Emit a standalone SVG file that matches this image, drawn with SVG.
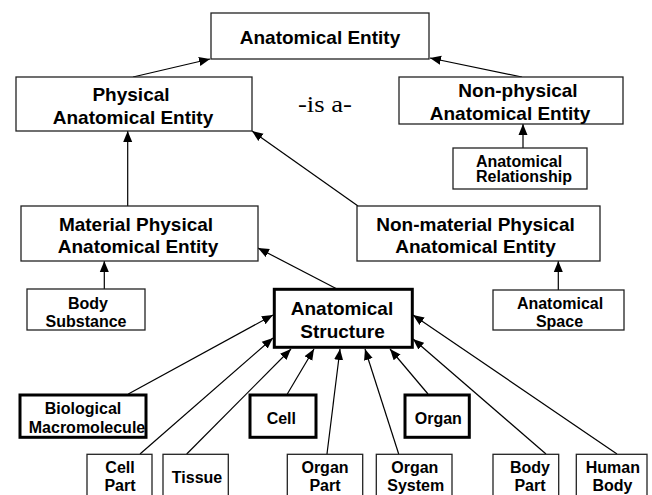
<svg xmlns="http://www.w3.org/2000/svg" width="652" height="495" viewBox="0 0 652 495">
<style>
.box{fill:#fff;stroke:#222;stroke-width:1.3}
.thick{fill:#fff;stroke:#000;stroke-width:3}
.t{font-family:"Liberation Sans",Arial,sans-serif;font-weight:bold;fill:#000;text-anchor:middle}
.l{font-size:19px}
.s{font-size:16px}
.c{stroke:#000;stroke-width:1.2;fill:none;marker-end:url(#ah)}
</style>
<defs>
<marker id="ah" markerUnits="userSpaceOnUse" markerWidth="12" markerHeight="10" viewBox="0 0 12 10" refX="11" refY="5" orient="auto">
<path d="M0,0.5 L11,5 L0,9.5 Z" fill="#000"/>
</marker>
</defs>
<rect width="652" height="495" fill="#fff"/>
<g id="connectors">
<line class="c" x1="133" y1="77" x2="210" y2="59"/>
<line class="c" x1="522" y1="77" x2="430" y2="58"/>
<line class="c" x1="127.7" y1="206" x2="127.7" y2="131"/>
<line class="c" x1="358" y1="206" x2="252" y2="131"/>
<line class="c" x1="523" y1="148" x2="523" y2="124"/>
<line class="c" x1="104.3" y1="289" x2="104.3" y2="261"/>
<line class="c" x1="337" y1="289" x2="258" y2="248"/>
<line class="c" x1="558.3" y1="290" x2="558.3" y2="261"/>
<line class="c" x1="128.3" y1="394" x2="273" y2="315"/>
<line class="c" x1="140" y1="454" x2="273" y2="338"/>
<line class="c" x1="186.7" y1="454" x2="291" y2="349"/>
<line class="c" x1="287.3" y1="394" x2="314" y2="349"/>
<line class="c" x1="327" y1="454" x2="340" y2="349"/>
<line class="c" x1="398.7" y1="454" x2="365" y2="349"/>
<line class="c" x1="428" y1="394" x2="390" y2="349"/>
<line class="c" x1="546" y1="454" x2="413" y2="339"/>
<line class="c" x1="617" y1="454" x2="413" y2="315"/>
</g>
<g id="anatomical-entity">
<rect class="box" x="211" y="13" width="218" height="46"/>
<text class="t l" x="320" y="44">Anatomical Entity</text>
</g>
<g id="physical-anatomical-entity">
<rect class="box" x="16" y="77" width="236" height="54"/>
<text class="t l" x="131" y="100.7">Physical</text>
<text class="t l" x="133" y="124">Anatomical Entity</text>
</g>
<text id="is-a" x="325" y="111.5" font-family="'Liberation Serif','Times New Roman',serif" font-size="23" text-anchor="middle" textLength="54" lengthAdjust="spacingAndGlyphs">-is a-</text>
<g id="non-physical-anatomical-entity">
<rect class="box" x="399" y="77" width="224" height="47"/>
<text class="t l" x="518" y="96.7">Non-physical</text>
<text class="t l" x="510" y="120">Anatomical Entity</text>
</g>
<g id="anatomical-relationship">
<rect class="box" x="453" y="148" width="134" height="41"/>
<text class="t s" x="519" y="166.7">Anatomical</text>
<text class="t s" x="524" y="182.3">Relationship</text>
</g>
<g id="material-physical-anatomical-entity">
<rect class="box" x="21" y="206" width="237" height="55"/>
<text class="t l" x="136" y="230.7">Material Physical</text>
<text class="t l" x="138" y="253.3">Anatomical Entity</text>
</g>
<g id="non-material-physical-anatomical-entity">
<rect class="box" x="357" y="206" width="243" height="55"/>
<text class="t l" x="475.5" y="230.7">Non-material Physical</text>
<text class="t l" x="475.5" y="253.3">Anatomical Entity</text>
</g>
<g id="body-substance">
<rect class="box" x="27" y="289" width="118" height="41"/>
<text class="t s" x="88" y="309">Body</text>
<text class="t s" x="86" y="326.7">Substance</text>
</g>
<g id="anatomical-structure">
<rect class="thick" x="274.3" y="289.3" width="138" height="58"/>
<text class="t l" x="342" y="315">Anatomical</text>
<text class="t l" x="342.5" y="337.7">Structure</text>
</g>
<g id="anatomical-space">
<rect class="box" x="493" y="290" width="131" height="40"/>
<text class="t s" x="560" y="309">Anatomical</text>
<text class="t s" x="559.5" y="326.7">Space</text>
</g>
<g id="biological-macromolecule">
<rect class="thick" x="20" y="395" width="126" height="42.3"/>
<text class="t s" x="83" y="414">Biological</text>
<text class="t s" x="87" y="432.7">Macromolecule</text>
</g>
<g id="cell">
<rect class="thick" x="250" y="395" width="66" height="42.3"/>
<text class="t s" x="281.3" y="424">Cell</text>
</g>
<g id="organ">
<rect class="thick" x="405" y="395" width="64.3" height="42.3"/>
<text class="t s" x="438.3" y="424">Organ</text>
</g>
<g id="cell-part">
<rect class="box" x="87" y="454.3" width="65" height="50"/>
<text class="t s" x="120" y="472.7">Cell</text>
<text class="t s" x="120" y="491">Part</text>
</g>
<g id="tissue">
<rect class="box" x="163" y="454.3" width="65.3" height="50"/>
<text class="t s" x="197" y="482.7">Tissue</text>
</g>
<g id="organ-part">
<rect class="box" x="287.3" y="454.3" width="75.4" height="50"/>
<text class="t s" x="325" y="472.7">Organ</text>
<text class="t s" x="325" y="491">Part</text>
</g>
<g id="organ-system">
<rect class="box" x="376.3" y="454.3" width="75.7" height="50"/>
<text class="t s" x="414.8" y="472.7">Organ</text>
<text class="t s" x="415.7" y="491">System</text>
</g>
<g id="body-part">
<rect class="box" x="493" y="454.3" width="65.7" height="50"/>
<text class="t s" x="530" y="472.7">Body</text>
<text class="t s" x="530" y="491">Part</text>
</g>
<g id="human-body">
<rect class="box" x="576.3" y="454.3" width="70.7" height="50"/>
<text class="t s" x="612.8" y="472.7">Human</text>
<text class="t s" x="612.5" y="491">Body</text>
</g>
</svg>
